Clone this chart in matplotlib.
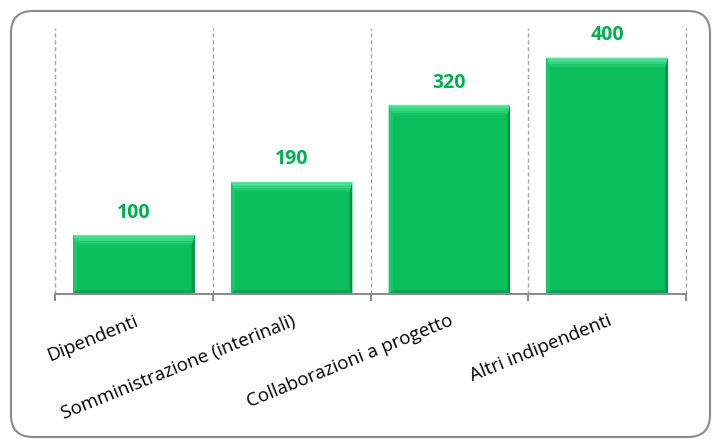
"""
Bar chart: contratti per tipologia
"""

import matplotlib.pyplot as plt
import numpy as np
from matplotlib.colors import to_rgb
from matplotlib.patches import FancyBboxPatch, Polygon
from matplotlib.transforms import IdentityTransform

categories = [
    "Dipendenti",
    "Somministrazione (interinali)",
    "Collaborazioni a progetto",
    "Altri indipendenti",
]
values = [100, 190, 320, 400]

plt.rcParams["font.family"] = ["Open Sans", "DejaVu Sans"]

W, H, DPI = 712, 441, 100
fig = plt.figure(figsize=(W / DPI, H / DPI), dpi=DPI)

# axes placed in pixels (left, bottom, right, top)
left, base, right, top = 55, 294, 686, 28
ax = fig.add_axes([left / W, 1 - base / H, (right - left) / W, (base - top) / H])

x = np.arange(len(values))
width = 0.77
ymax = 450
ax.set_xlim(-0.5, len(values) - 0.5)
ax.set_ylim(0, ymax)

main = "#0abf5b"
ax.bar(x, values, width=width, color=main, zorder=3)

# bevel effect on each bar (sizes in pixels -> data units)
sx = (right - left) / len(values)
sy = (base - top) / ymax
bx = 4 / sx
btop = 10 / sy
bbot = 4 / sy
c_light = np.array(to_rgb("#5eeaa2"))
c_main = np.array(to_rgb(main))
nband = 6
for i, v in zip(x, values):
    x0, x1 = i - width / 2, i + width / 2
    ax.add_patch(Polygon([(x0, v), (x0 + bx, v - btop), (x0 + bx, bbot), (x0, 0)],
                         facecolor="#16c96a", edgecolor="none", zorder=4))
    ax.add_patch(Polygon([(x1, v), (x1 - bx * 0.7, v - btop), (x1 - bx * 0.7, bbot), (x1, 0)],
                         facecolor="#088f48", edgecolor="none", zorder=4))
    ax.add_patch(Polygon([(x0, 0), (x0 + bx, bbot), (x1 - bx * 0.7, bbot), (x1, 0)],
                         facecolor="#0aa553", edgecolor="none", zorder=4))
    # top bevel as a gradient of thin trapezoids
    for k in range(nband):
        t0, t1 = k / nband, (k + 1) / nband
        col = c_light * (1 - t0) + c_main * t0
        pts = [(x0 + bx * t0, v - btop * t0), (x1 - bx * 0.7 * t0, v - btop * t0),
               (x1 - bx * 0.7 * t1, v - btop * t1), (x0 + bx * t1, v - btop * t1)]
        ax.add_patch(Polygon(pts, facecolor=col, edgecolor="none", zorder=4))
    ax.annotate(f"{v}", (i, v), xytext=(0, 16), textcoords="offset points",
                ha="center", va="center", fontsize=14, fontweight="bold", color="#00b050")

# category boundaries: dashed gridlines + small ticks
ax.set_xticks(np.arange(-0.5, len(values), 1))
ax.set_xticklabels([])
ax.grid(axis="x", which="major", linestyle=(0, (3, 2)), color="#a6a6a6", linewidth=1, zorder=0)
for gl in ax.get_xgridlines():
    gl.set_clip_on(False)
ax.tick_params(axis="x", which="major", length=5, width=1.5, color="#8c8c8c")

# category labels on minor ticks at bar centres
ax.set_xticks(x, minor=True)
ax.set_xticklabels(categories, minor=True, rotation=22, ha="right", va="top",
                   rotation_mode="anchor", fontsize=13.5)
ax.tick_params(axis="x", which="minor", length=0, pad=13)

ax.set_yticks([])
for s in ["left", "right", "top"]:
    ax.spines[s].set_visible(False)
ax.spines["bottom"].set_color("#8c8c8c")
ax.spines["bottom"].set_linewidth(1.5)
ax.spines["bottom"].set_zorder(5)

# rounded chart border (pixel coordinates)
border = FancyBboxPatch((11, 4), 699, 426, boxstyle="round,pad=0,rounding_size=22",
                        transform=IdentityTransform(), facecolor="none",
                        edgecolor="#8a8a8a", linewidth=1.5)
fig.add_artist(border)

fig.savefig("out.png", dpi=DPI)
